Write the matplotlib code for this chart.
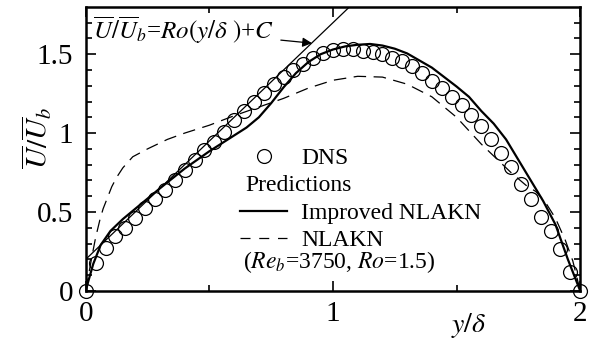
import matplotlib
matplotlib.use("Agg")
import matplotlib.pyplot as plt
from matplotlib.lines import Line2D

plt.rcParams['font.family'] = ['Liberation Serif', 'DejaVu Serif']
plt.rcParams['mathtext.fontset'] = 'stix'

# DNS data
dns_x = [0.00, 0.04, 0.08, 0.12, 0.16, 0.20, 0.24, 0.28, 0.32, 0.36,
         0.40, 0.44, 0.48, 0.52, 0.56, 0.60, 0.64, 0.68, 0.72, 0.76,
         0.80, 0.84, 0.88, 0.92, 0.96, 1.00, 1.04, 1.08, 1.12, 1.16,
         1.20, 1.24, 1.28, 1.32, 1.36, 1.40, 1.44, 1.48, 1.52, 1.56,
         1.60, 1.64, 1.68, 1.72, 1.76, 1.80, 1.84, 1.88, 1.92, 1.96, 2.00]
dns_u = [0.00, 0.175, 0.27, 0.345, 0.40, 0.46, 0.525, 0.58, 0.64, 0.70,
         0.765, 0.83, 0.89, 0.945, 1.005, 1.08, 1.14, 1.20, 1.255, 1.31,
         1.355, 1.40, 1.44, 1.475, 1.505, 1.525, 1.535, 1.53, 1.52, 1.513,
         1.50, 1.478, 1.455, 1.425, 1.38, 1.33, 1.285, 1.23, 1.18, 1.115,
         1.045, 0.96, 0.875, 0.785, 0.68, 0.58, 0.47, 0.38, 0.265, 0.12, 0.00]

# Improved NLAKN prediction
imp_x = [0.00, 0.01, 0.03, 0.06, 0.10, 0.15, 0.20, 0.30, 0.40, 0.50,
         0.60, 0.65, 0.70, 0.75, 0.80, 0.85, 0.90, 0.95, 1.00, 1.05,
         1.10, 1.15, 1.20, 1.25, 1.30, 1.35, 1.40, 1.45, 1.50, 1.55,
         1.60, 1.65, 1.70, 1.75, 1.80, 1.85, 1.90, 1.95, 1.98, 2.00]
imp_u = [0.00, 0.06, 0.17, 0.29, 0.38, 0.455, 0.52, 0.65, 0.775, 0.885,
         0.985, 1.035, 1.10, 1.19, 1.29, 1.38, 1.45, 1.50, 1.53, 1.55,
         1.56, 1.565, 1.555, 1.535, 1.505, 1.46, 1.415, 1.355, 1.295, 1.23,
         1.14, 1.06, 0.96, 0.83, 0.70, 0.57, 0.42, 0.20, 0.08, 0.00]

# NLAKN prediction
nl_x = [0.00, 0.01, 0.025, 0.04, 0.057, 0.07, 0.085, 0.105, 0.125, 0.15,
        0.19, 0.25, 0.33, 0.40, 0.50, 0.60, 0.70, 0.80, 0.90, 1.00,
        1.10, 1.20, 1.30, 1.40, 1.50, 1.60, 1.66, 1.72, 1.78, 1.82,
        1.86, 1.90, 1.94, 1.97, 2.00]
nl_u = [0.00, 0.09, 0.22, 0.34, 0.45, 0.52, 0.58, 0.66, 0.72, 0.78,
        0.85, 0.90, 0.96, 1.00, 1.05, 1.11, 1.165, 1.22, 1.285, 1.335,
        1.36, 1.355, 1.31, 1.23, 1.10, 0.93, 0.84, 0.75, 0.67, 0.63,
        0.56, 0.46, 0.32, 0.19, 0.00]

# U/Ub = Ro(y/delta) + C reference line (Ro = 1.5, C ~ 0.2)
ref_x = [0.0, 1.2]
ref_u = [0.2, 2.0]

fig = plt.figure(figsize=(6.0, 3.45), dpi=100)
ax = fig.add_axes([0.143, 0.157, 0.824, 0.823])

ax.plot(ref_x, ref_u, color='black', lw=0.9)
ax.plot(nl_x, nl_u, color='black', lw=0.9, ls=(0, (10, 6)))
ax.plot(imp_x, imp_u, color='black', lw=1.6)
ax.plot(dns_x, dns_u, ls='none', marker='o', ms=10, mfc='none',
        mec='black', mew=0.9, clip_on=False, zorder=5)

ax.set_xlim(0, 2)
ax.set_ylim(0, 1.8)
ax.set_xticks([0, 1, 2])
ax.set_xticks([0.5, 1.5], minor=True)
ax.set_xticklabels(['0', '1', '2'])
ax.set_yticks([0, 0.5, 1, 1.5])
ax.set_yticklabels(['0', '0.5', '1', '1.5'])
ax.set_yticks([i / 10 for i in range(18)], minor=True)
ax.tick_params(which='both', direction='in', top=True, right=True,
               width=1.2, labelsize=21)
ax.tick_params(which='major', length=7)
ax.tick_params(which='minor', length=4)
ax.tick_params(axis='y', which='major', pad=9)
ax.tick_params(axis='x', which='major', pad=7)
for s in ax.spines.values():
    s.set_linewidth(1.8)

ax.text(1.55, -0.22, r'$y/\delta$', fontsize=20, ha='center', va='center',
        clip_on=False)
fig.text(0.062, 0.60, r'$\overline{U}/\overline{U}_b$', fontsize=21,
         rotation=90, ha='center', va='center')

ax.annotate(r'$\overline{U}/\overline{U}_b$=$Ro(y/\delta\ )$+$C$',
            xy=(0.915, 1.57), xytext=(0.03, 1.65),
            fontsize=18, ha='left', va='center',
            arrowprops=dict(arrowstyle='-|>', color='black', lw=0.9,
                            mutation_scale=14, shrinkA=3, shrinkB=0))

handles = [
    Line2D([], [], ls='none', marker='o', ms=10, mfc='none', mec='black', mew=0.9),
    Line2D([], [], ls='none'),
    Line2D([], [], color='black', lw=1.6),
    Line2D([], [], color='black', lw=0.9, ls=(0, (8, 7))),
]
labels = ['DNS', ' ', 'Improved NLAKN', 'NLAKN']
ax.legend(handles, labels, loc='upper left', bbox_to_anchor=(0.312, 0.505),
          frameon=False, fontsize=17, handlelength=2.0, handletextpad=0.6,
          labelspacing=0.25, borderpad=0, borderaxespad=0)
ax.text(0.322, 0.37, 'Predictions', transform=ax.transAxes,
        fontsize=17, ha='left', va='center')
ax.text(0.318, 0.10, r'($Re_b$=3750, $Ro$=1.5)', transform=ax.transAxes,
        fontsize=17, ha='left', va='center')

fig.savefig('out.png', dpi=100)
